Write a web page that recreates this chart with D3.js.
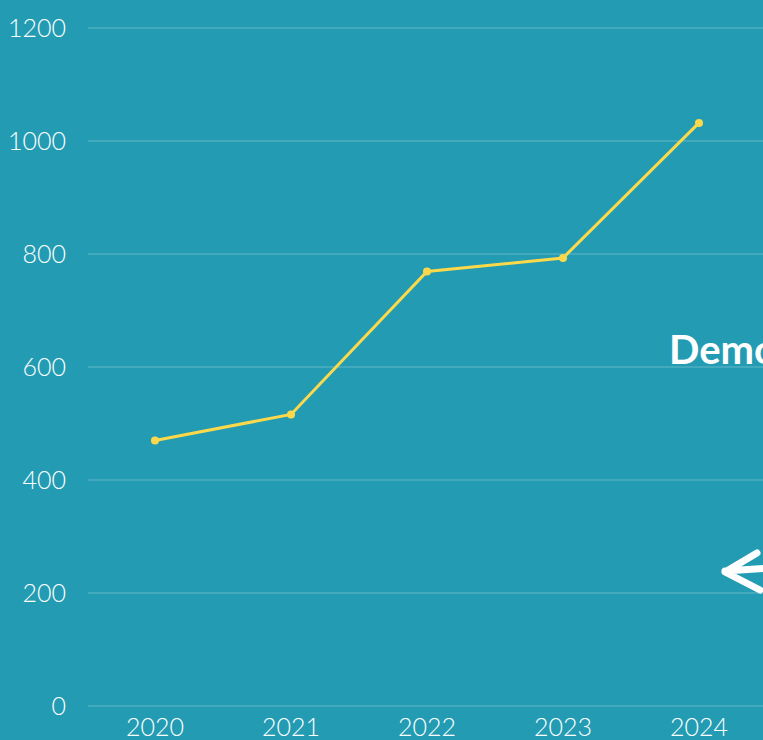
<!DOCTYPE html>
<html>
<head>
<meta charset="utf-8">
<script src="https://cdn.jsdelivr.net/npm/d3@7"></script>
<style>
	html, body { margin: 0; padding: 0; background: #239cb3; overflow: hidden; }
	svg { display: block; }
	.tick text { fill: #ffffff; font-family: "Lato", "DejaVu Sans", sans-serif; font-weight: 300; }
</style>
</head>
<body>
<svg id="chart" width="763" height="740"></svg>
<script>
const years = ["2020", "2021", "2022", "2023", "2024"];
const values = [470, 516, 769, 793, 1032];
const y_ticks = [0, 200, 400, 600, 800, 1000, 1200];

const svg = d3.select("#chart");
const width = 763, height = 740;

svg.append("rect")
	.attr("width", width)
	.attr("height", height)
	.attr("fill", "#239cb3");

const x = d3.scaleBand()
	.domain(years)
	.range([87, 767])
	.padding(0);

const y = d3.scaleLinear()
	.domain([0, 1200])
	.range([706, 28]);

// gridlines
svg.append("g")
	.selectAll("line")
	.data(y_ticks)
	.enter().append("line")
	.attr("x1", 88)
	.attr("x2", width)
	.attr("y1", d => y(d))
	.attr("y2", d => y(d))
	.attr("stroke", "#ffffff")
	.attr("stroke-opacity", 0.2)
	.attr("stroke-width", 1.5);

// y axis labels
const y_axis = svg.append("g")
	.attr("transform", "translate(66,0)")
	.call(d3.axisLeft(y).tickValues(y_ticks).tickFormat(d3.format("d")).tickSize(0).tickPadding(0));
y_axis.select(".domain").remove();
y_axis.selectAll("text")
	.style("font-size", "25px")
	.attr("dy", "0.35em");

// x axis labels
const x_axis = svg.append("g")
	.attr("transform", "translate(0,718)")
	.call(d3.axisBottom(x).tickSize(0).tickPadding(0));
x_axis.select(".domain").remove();
x_axis.selectAll("text")
	.style("font-size", "25px")
	.attr("dy", "0.72em");

// line
const line = d3.line()
	.x((d, i) => x(years[i]) + x.bandwidth() / 2)
	.y(d => y(d));

svg.append("path")
	.datum(values)
	.attr("d", line)
	.attr("fill", "none")
	.attr("stroke", "#fcd94a")
	.attr("stroke-width", 3);

svg.append("g")
	.selectAll("circle")
	.data(values)
	.enter().append("circle")
	.attr("cx", (d, i) => x(years[i]) + x.bandwidth() / 2)
	.attr("cy", d => y(d))
	.attr("r", 4)
	.attr("fill", "#fcd94a");

// side annotation, partly off-canvas
svg.append("text")
	.attr("x", 669)
	.attr("y", 364)
	.attr("fill", "#ffffff")
	.style("font-family", "Lato, 'DejaVu Sans', sans-serif")
	.style("font-weight", 700)
	.style("font-size", "40px")
	.text("Demo");

// arrow pointing left
svg.append("path")
	.attr("d", "M757,553 L725,572 L760,590 M725,571 L770,568")
	.attr("fill", "none")
	.attr("stroke", "#ffffff")
	.attr("stroke-width", 7)
	.attr("stroke-linecap", "round")
	.attr("stroke-linejoin", "round");
</script>
</body>
</html>
